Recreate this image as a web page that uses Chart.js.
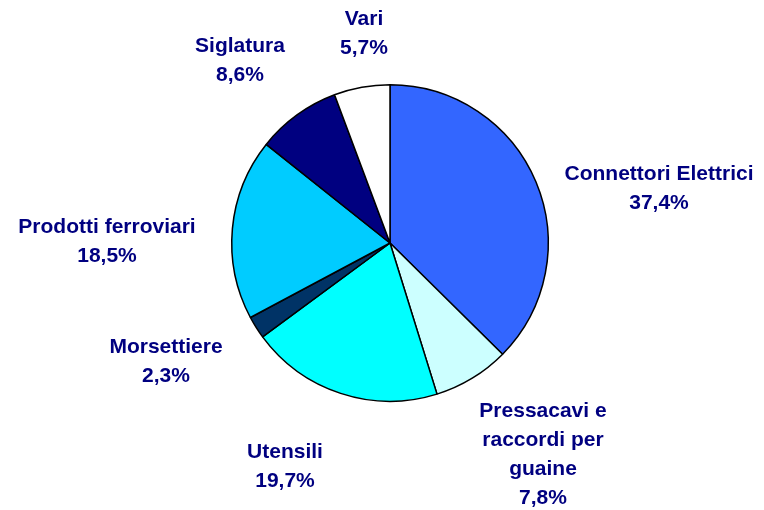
<!DOCTYPE html>
<html>
<head>
<meta charset="utf-8">
<script src="https://cdn.jsdelivr.net/npm/chart.js"></script>
<style>
  html, body { margin: 0; padding: 0; background: #fff; }
  #wrap { width: 764px; height: 510px; }
</style>
</head>
<body>
<div id="wrap"><canvas id="myChart" width="764" height="510"></canvas></div>
<script>
// dati del grafico
const categories = ['Connettori Elettrici', 'Pressacavi e\nraccordi per\nguaine', 'Utensili', 'Morsettiere', 'Prodotti ferroviari', 'Siglatura', 'Vari'];
const values = [37.4, 7.8, 19.7, 2.3, 18.5, 8.6, 5.7];
const colors = ['#3366FF', '#CCFFFF', '#00FFFF', '#003366', '#00CCFF', '#000080', '#FFFFFF'];

// spostamento etichette rispetto al centro della torta
const labelOffsets = [[269, -54], [153, 212], [-105, 224], [-224, 119], [-283, -1], [-150, -182], [-26, -209]];

const ctx = document.getElementById('myChart');

const labelPlugin = {
  id: 'pieLabels',
  afterDraw(chart) {
    const c = chart.ctx;
    const arcs = chart.getDatasetMeta(0).data;
    c.save();
    c.font = 'bold 21px "Liberation Sans", Arial, sans-serif';
    c.fillStyle = '#000080';
    c.textAlign = 'center';
    c.textBaseline = 'middle';
    const lh = 29;
    arcs.forEach((arc, i) => {
      const lines = categories[i].split('\n');
      lines.push(values[i].toFixed(1).replace('.', ',') + '%');
      const cx = arc.x + labelOffsets[i][0];
      const cy = arc.y + labelOffsets[i][1];
      const top = cy - (lines.length - 1) * lh / 2;
      lines.forEach((t, j) => c.fillText(t, cx, top + j * lh));
    });
    c.restore();
  }
};

new Chart(ctx, {
  type: 'pie',
  data: {
    labels: categories,
    datasets: [{
      data: values,
      backgroundColor: colors,
      borderColor: '#000',
      borderWidth: 1.5,
      hoverOffset: 0,
      offset: 0
    }]
  },
  options: {
    responsive: false,
    animation: false,
    layout: { padding: { left: 231, right: 215, top: 84, bottom: 108 } },
    plugins: {
      legend: { display: false },
      tooltip: { enabled: false }
    }
  },
  plugins: [labelPlugin]
});
</script>
</body>
</html>
